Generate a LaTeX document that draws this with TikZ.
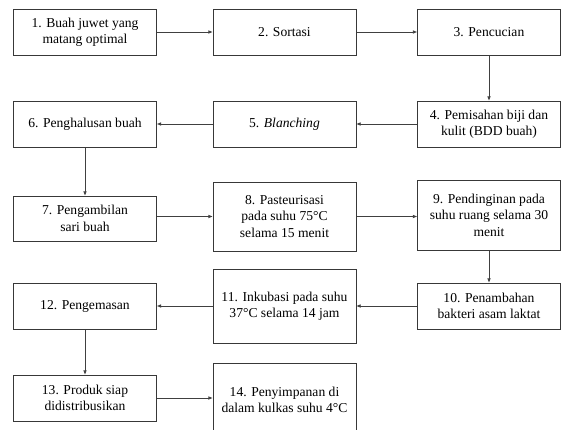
\documentclass[tikz,border=0pt]{standalone}
\usepackage{fontspec}
\setmainfont{Liberation Serif}
\usetikzlibrary{arrows.meta}
\begin{document}
\begin{tikzpicture}[x=1pt,y=-1pt,
  box/.style={draw=black!78, line width=1pt, fill=white, minimum width=143pt, inner sep=0pt, align=center,
    font=\fontsize{13.6pt}{16.4pt}\selectfont, text=black},
  arr/.style={draw=black!75, line width=0.9pt, -{Triangle[length=4.2pt,width=3.2pt]}}]
\useasboundingbox (0,0) rectangle (561,429);
\clip (0,0) rectangle (561,429);
\fill[white] (0,0) rectangle (561,429);
\node[box, minimum height=46pt] (n1) at (85,32) {1. Buah juwet yang\\matang optimal};
\node[box, minimum height=46pt] (n2) at (284.5,32) {2. Sortasi};
\node[box, minimum height=46pt] (n3) at (489,32) {3. Pencucian};
\node[box, minimum height=46pt] (n4) at (489,124) {4. Pemisahan biji dan\\kulit (BDD buah)};
\node[box, minimum height=46pt] (n5) at (284.5,124) {5. \textit{Blanching}};
\node[box, minimum height=46pt] (n6) at (85,124) {6. Penghalusan buah};
\node[box, minimum height=45pt] (n7) at (85,218.5) {7. Pengambilan\\sari buah};
\node[box, minimum height=69pt] (n8) at (284.5,216.5) {8. Pasteurisasi\\pada suhu 75°C\\selama 15 menit};
\node[box, minimum height=70pt] (n9) at (489,215) {9. Pendinginan pada\\suhu ruang selama 30\\menit};
\node[box, minimum height=46pt] (n10) at (489,306) {10. Penambahan\\bakteri asam laktat};
\node[box, minimum height=74pt] (n11) at (284.5,306) {11. Inkubasi pada suhu\\37°C selama 14 jam};
\node[box, minimum height=46pt] (n12) at (85,306) {12. Pengemasan};
\node[box, minimum height=46pt] (n13) at (85,398) {13. Produk siap\\didistribusikan};
\node[box, minimum height=74pt] (n14) at (284.5,400) {14. Penyimpanan di\\dalam kulkas suhu 4°C};
\draw[arr] (n1.east) -- (n2.west);
\draw[arr] (n2.east) -- (n3.west);
\draw[arr] (n3.south) -- (n4.north);
\draw[arr] (n4.west) -- (n5.east);
\draw[arr] (n5.west) -- (n6.east);
\draw[arr] (n6.south) -- (n7.north);
\draw[arr] (n7.east |- n8.west) -- (n8.west);
\draw[arr] (n8.east) -- (n9.west |- n8.east);
\draw[arr] (n9.south) -- (n10.north);
\draw[arr] (n10.west) -- (n11.east |- n10.west);
\draw[arr] (n11.west) -- (n12.east);
\draw[arr] (n12.south) -- (n13.north);
\draw[arr] (n13.east) -- (n14.west |- n13.east);
\end{tikzpicture}
\end{document}
